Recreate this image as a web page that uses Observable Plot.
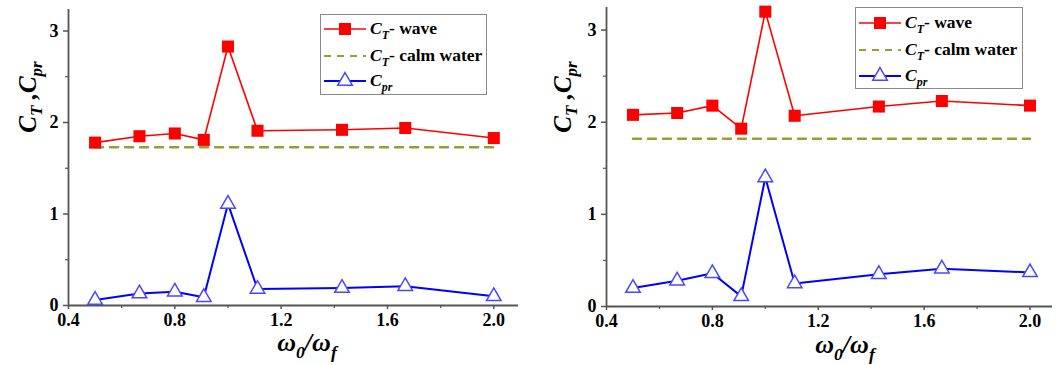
<!DOCTYPE html>
<html>
<head>
<meta charset="utf-8">
<script src="https://cdn.jsdelivr.net/npm/d3@7"></script>
<script src="https://cdn.jsdelivr.net/npm/@observablehq/plot@0.6"></script>
<style>
  html, body { margin: 0; padding: 0; background: #fff; }
  #wrap { position: relative; width: 1056px; height: 365px; overflow: hidden; font-family: "Liberation Serif", "Tinos", "Times New Roman", serif; }
  .panel { position: absolute; top: 0; }
  .ttl { position: absolute; white-space: nowrap; font-weight: bold; font-style: italic; color: #000; line-height: 1; font-family: "Liberation Serif", serif; }
  .sb { font-size: 0.68em; position: relative; top: 0.38em; }
  .legend { position: absolute; border: 1.5px solid #8a8a8a; background: #fff; box-sizing: border-box; }
  .lrow { position: absolute; left: 0; height: 20px; display: flex; align-items: center; white-space: nowrap; }
  .ltxt { font-weight: bold; font-size: 17.5px; color: #000; margin-left: 3px; line-height: 1; font-family: "Liberation Serif", serif; }
</style>
</head>
<body>
<div id="wrap"></div>
<script>
// ---- data ----
const ratio = [0.5, 0.667, 0.8, 0.909, 1.0, 1.111, 1.429, 1.667, 2.0];

const ctWaveA = [1.78, 1.85, 1.88, 1.81, 2.83, 1.91, 1.92, 1.94, 1.83];
const ctCalmA = [1.73, 1.73];
const cprA    = [0.06, 0.13, 0.15, 0.09, 1.11, 0.18, 0.19, 0.21, 0.10];

const ctWaveB = [2.08, 2.10, 2.18, 1.93, 3.20, 2.07, 2.17, 2.23, 2.18];
const ctCalmB = [1.82, 1.82];
const cprB    = [0.20, 0.28, 0.36, 0.11, 1.40, 0.25, 0.35, 0.41, 0.37];

const calmX = [0.5, 2.0];
const xMajor = [0.4, 0.8, 1.2, 1.6, 2.0];
const xMinor = [0.6, 1.0, 1.4, 1.8];
const yMajor = [0, 1, 2, 3];
const yMinor = [0.5, 1.5, 2.5];

const FONT = '"Liberation Serif", "Tinos", "Times New Roman", serif';
const RED = "#ff0000", BLUE = "#0000ff", TRI = "#4848ff", OLIVE = "#9c9c30", AX = "#555";

function panel(wave, calm, cpr, cfg) {
  const waveData = ratio.map((x, i) => ({x, y: wave[i]}));
  const cprData = ratio.map((x, i) => ({x, y: cpr[i]}));
  const calmData = calmX.map((x, i) => ({x, y: calm[i]}));
  return Plot.plot({
    width: cfg.width, height: 365,
    marginLeft: cfg.ml, marginRight: cfg.mr, marginTop: cfg.mt, marginBottom: cfg.mb,
    x: {domain: [0.4, cfg.xmax]},
    y: {domain: [0, cfg.ymax]},
    style: {fontFamily: FONT, fontWeight: "bold", fontSize: "18px", color: "#000", background: "transparent", overflow: "visible"},
    marks: [
      Plot.axisX({ticks: xMajor, tickFormat: d3.format(".1f"), tickSize: 4, tickPadding: 4, label: null, stroke: AX, strokeWidth: 1.5, fill: "#000", fontFamily: FONT, fontWeight: "bold", fontSize: 18}),
      Plot.axisX({ticks: xMinor, tickFormat: () => "", tickSize: 3, label: null, stroke: AX, strokeWidth: 1.2}),
      Plot.axisY({ticks: yMajor, tickFormat: d3.format("d"), tickSize: 5, tickPadding: 5, label: null, stroke: AX, strokeWidth: 1.5, fill: "#000", fontFamily: FONT, fontWeight: "bold", fontSize: 18}),
      Plot.axisY({ticks: yMinor, tickFormat: () => "", tickSize: 3, label: null, stroke: AX, strokeWidth: 1.2}),
      Plot.ruleX([0.4], {stroke: AX, strokeWidth: 1.8}),
      Plot.ruleY([0], {stroke: AX, strokeWidth: 1.8}),
      Plot.line(calmData, {x: "x", y: "y", stroke: OLIVE, strokeWidth: 2.5, strokeDasharray: "8,7"}),
      Plot.line(waveData, {x: "x", y: "y", stroke: RED, strokeWidth: 1.6}),
      Plot.dot(waveData, {x: "x", y: "y", symbol: "square", r: 6.8, fill: RED, stroke: "none"}),
      Plot.line(cprData, {x: "x", y: "y", stroke: BLUE, strokeWidth: 2}),
      Plot.dot(cprData, {x: "x", y: "y", symbol: "triangle", r: 5.4, fill: "#fff", stroke: TRI, strokeWidth: 1.5})
    ]
  });
}

const wrap = document.getElementById("wrap");

function place(node, left, width) {
  const d = document.createElement("div");
  d.className = "panel";
  d.style.left = left + "px";
  d.style.width = width + "px";
  d.appendChild(node);
  wrap.appendChild(d);
}

place(panel(ctWaveA, ctCalmA, cprA, {width: 530, ml: 68, mr: 12, mt: 9, mb: 60, xmax: 2.093, ymax: 3.235}), 0, 530);
place(panel(ctWaveB, ctCalmB, cprB, {width: 526, ml: 76, mr: 4, mt: 7, mb: 59, xmax: 2.085, ymax: 3.245}), 530, 526);

// axis titles
function title(html, cx, cy, size, rotate) {
  const d = document.createElement("div");
  d.className = "ttl";
  d.innerHTML = html;
  d.style.fontSize = size + "px";
  d.style.left = cx + "px";
  d.style.top = cy + "px";
  d.style.transform = "translate(-50%,-50%)" + (rotate ? " rotate(-90deg)" : "");
  wrap.appendChild(d);
}
const yTitle = 'C<span class="sb">T</span> ,C<span class="sb">pr</span>';
const xTitle = 'ω<span class="sb">0</span>/ω<span class="sb">f</span>';
title(yTitle, 27, 97, 25, true);
title(yTitle, 562, 97, 25, true);
title(xTitle, 307, 343, 26, false);
title(xTitle, 845, 345, 26, false);

// legends
const legendItems = [
  {label: '<i>C</i><span class="sb"><i>T</i></span>- wave', kind: "wave"},
  {label: '<i>C</i><span class="sb"><i>T</i></span>- calm water', kind: "calm"},
  {label: '<i>C</i><span class="sb"><i>pr</i></span>', kind: "cpr"}
];
function swatch(kind) {
  const svg = d3.create("svg").attr("width", 44).attr("height", 20).style("overflow", "visible");
  if (kind === "wave") {
    svg.append("line").attr("x1", 1).attr("x2", 43).attr("y1", 10).attr("y2", 10).attr("stroke", RED).attr("stroke-width", 1.6);
    svg.append("rect").attr("x", 16).attr("y", 4).attr("width", 12).attr("height", 12).attr("fill", RED);
  } else if (kind === "calm") {
    svg.append("line").attr("x1", 1).attr("x2", 43).attr("y1", 10).attr("y2", 10).attr("stroke", OLIVE).attr("stroke-width", 2.2).attr("stroke-dasharray", "7,6");
  } else {
    svg.append("line").attr("x1", 1).attr("x2", 43).attr("y1", 10).attr("y2", 10).attr("stroke", BLUE).attr("stroke-width", 2);
    svg.append("path").attr("d", d3.symbol(d3.symbolTriangle, Math.PI * 5.4 * 5.4)()).attr("transform", "translate(22,10)")
      .attr("fill", "#fff").attr("stroke", TRI).attr("stroke-width", 1.5);
  }
  return svg.node();
}
function legend(left, top, w, h, rowTops) {
  const box = document.createElement("div");
  box.className = "legend";
  Object.assign(box.style, {left: left + "px", top: top + "px", width: w + "px", height: h + "px"});
  legendItems.forEach((it, i) => {
    const row = document.createElement("div");
    row.className = "lrow";
    row.style.top = rowTops[i] + "px";
    row.style.left = "2px";
    row.appendChild(swatch(it.kind));
    const t = document.createElement("span");
    t.className = "ltxt";
    t.innerHTML = it.label;
    row.appendChild(t);
    box.appendChild(row);
  });
  wrap.appendChild(box);
}
legend(320, 14, 167, 81, [4, 31, 56]);
legend(855, 7, 168, 82, [5, 32, 58]);
</script>
</body>
</html>
